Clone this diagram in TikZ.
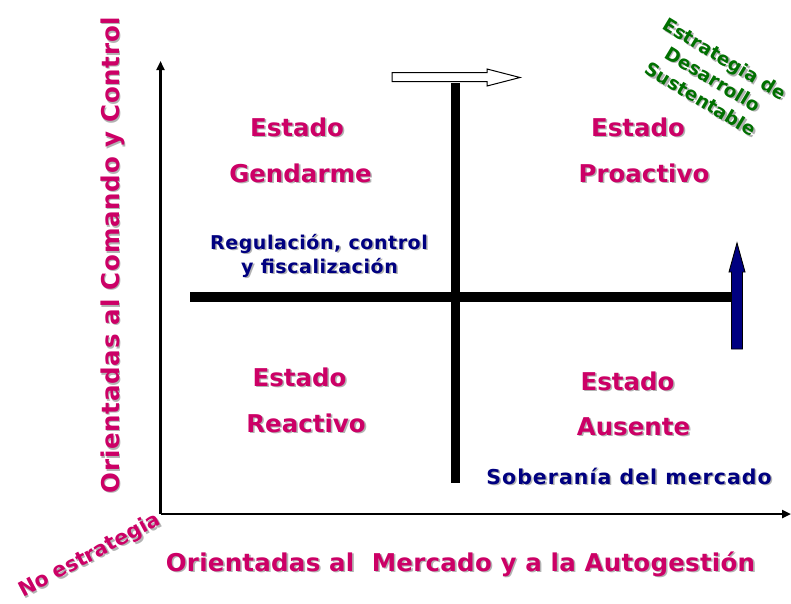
\documentclass[tikz,border=0pt]{standalone}
\usepackage{fontspec}
\newfontfamily\vfont{DejaVu Sans}
\usetikzlibrary{arrows.meta}
\definecolor{pinkt}{RGB}{204,0,102}
\definecolor{navyt}{RGB}{0,0,128}
\definecolor{greent}{RGB}{0,112,0}
\definecolor{shadowg}{RGB}{178,178,178}
\newcommand\mkshadowtext[5]{%
  \node[#4, text=shadowg] at (#2+1.6,#3+1.6) {#5};
  \node[#4] (#1) at (#2,#3) {#5};}
\tikzset{
  bigpink/.style={text=pinkt, font=\vfont\bfseries\fontsize{24.5}{28}\selectfont, inner sep=0pt, anchor=base},
  axislabel/.style={bigpink, font=\vfont\bfseries\fontsize{24.5}{28}\selectfont\addfontfeatures{LetterSpace=3}},
  xaxislabel/.style={bigpink, font=\vfont\bfseries\fontsize{24.5}{28}\selectfont\addfontfeatures{LetterSpace=1}},
  bluetxt/.style={text=navyt, font=\vfont\bfseries\fontsize{19}{22}\selectfont\addfontfeatures{LetterSpace=3}, inner sep=0pt, anchor=base},
  bluetxtb/.style={text=navyt, font=\vfont\bfseries\fontsize{20.5}{22}\selectfont\addfontfeatures{LetterSpace=5}, inner sep=0pt, anchor=base},
  nostrat/.style={text=pinkt, font=\vfont\bfseries\fontsize{20.5}{24}\selectfont, inner sep=0pt, rotate=28},
  greentxt/.style={text=greent, font=\vfont\bfseries\fontsize{18.5}{23.5}\selectfont, inner sep=0pt, rotate=-31, align=center},
  axis/.style={line width=2.2pt, -{Triangle[length=9pt,width=8pt]}},
  hbar/.style={line width=10.6pt},
  vbar/.style={line width=9pt},
}
\begin{document}
\begin{tikzpicture}[x=1pt,y=-1pt]
\useasboundingbox (0,0) rectangle (791,603);
% axes
\coordinate (o) at (160.5,514);
\coordinate (ytip) at (160.5,61);
\coordinate (xtip) at (791,514);
\draw[axis] (o) -- (ytip);
\draw[axis] (o) -- (xtip);
% cross
\coordinate (hl) at (190,297);
\coordinate (hr) at (733,297);
\coordinate (vt) at (455,83);
\coordinate (vb) at (455,483);
\draw[hbar] (hl) -- (hr);
\draw[vbar] (vt) -- (vb);
% hollow arrow
\draw[fill=white, line width=1pt, line join=miter]
  (392,72.5) -- (487,72.5) -- (487,69) -- (520,77.5) -- (487,86) -- (487,81.5) -- (392,81.5) -- cycle;
% blue arrow
\draw[fill=navyt, draw=black, line width=0.9pt, line join=miter]
  (731.5,349) -- (731.5,272) -- (729,272) -- (737,243) -- (745,272) -- (742.5,272) -- (742.5,349) -- cycle;
% quadrant labels
\mkshadowtext{e1}{297}{136}{bigpink}{Estado}
\mkshadowtext{g1}{300.5}{182}{bigpink}{Gendarme}
\mkshadowtext{e2}{638}{136}{bigpink}{Estado}
\mkshadowtext{p2}{644}{182}{bigpink}{Proactivo}
\mkshadowtext{e3}{299.5}{386}{bigpink}{Estado}
\mkshadowtext{r3}{306}{432}{bigpink}{Reactivo}
\mkshadowtext{e4}{627.5}{390}{bigpink}{Estado}
\mkshadowtext{a4}{633.5}{435}{bigpink}{Ausente}
% blue notes
\mkshadowtext{reg1}{319}{249}{bluetxt}{Regulación, control}
\mkshadowtext{reg2}{319.5}{273}{bluetxt}{y fiscalización}
\mkshadowtext{sob}{629}{484}{bluetxtb}{Soberanía del mercado}
% axis labels
\mkshadowtext{xl}{460.5}{571}{xaxislabel}{Orientadas al\ \ Mercado y a la Autogestión}
\mkshadowtext{yl}{119}{255}{axislabel, rotate=90}{Orientadas al Comando y Control}
\mkshadowtext{ns}{90}{556}{nostrat}{No estrategia}
\mkshadowtext{eds}{713}{79}{greentxt}{Estrategia de\\Desarrollo\\Sustentable}
\end{tikzpicture}
\end{document}
